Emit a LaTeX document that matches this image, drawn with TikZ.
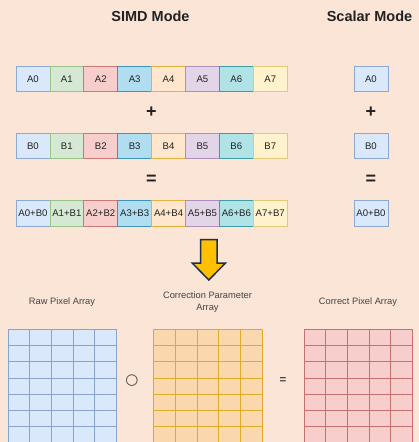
\documentclass[tikz,border=0pt]{standalone}
\usepackage{fontspec}
\setmainfont{Liberation Sans}
\newfontfamily\symfont{DejaVu Sans}
\definecolor{bgc}{HTML}{FBE5D7}
\definecolor{fA}{HTML}{DAE8FC}\definecolor{sA}{HTML}{6C8EBF}
\definecolor{fB}{HTML}{D5E8D4}\definecolor{sB}{HTML}{82B366}
\definecolor{fC}{HTML}{F8CECC}\definecolor{sC}{HTML}{B85450}
\definecolor{fD}{HTML}{B1DDF0}\definecolor{sD}{HTML}{10739E}
\definecolor{fE}{HTML}{FFE6CC}\definecolor{sE}{HTML}{D79B00}
\definecolor{fF}{HTML}{E1D5E7}\definecolor{sF}{HTML}{9673A6}
\definecolor{fG}{HTML}{B0E3E6}\definecolor{sG}{HTML}{0E8088}
\definecolor{fH}{HTML}{FFF2CC}\definecolor{sH}{HTML}{D6B656}
\definecolor{fO}{HTML}{FAD7AC}\definecolor{sO}{HTML}{D79B00}
\definecolor{txt}{HTML}{222222}
\definecolor{arrowfill}{HTML}{FFC000}
\definecolor{arrowline}{HTML}{1F2D4F}
\tikzset{
  cell/.style={minimum width=33.9pt, minimum height=25.5pt, inner sep=0pt, outer sep=0pt,
    font=\fontsize{9.6}{10}\selectfont, text=txt, line width=0.8pt, anchor=north west},
  title/.style={font=\bfseries\fontsize{14.5}{16}\selectfont, text=txt},
  op/.style={font=\bfseries\fontsize{18}{18}\selectfont, text=txt},
  lbl/.style={font=\fontsize{9.3}{12}\selectfont, text=txt!85!white, align=center},
  gridline/.style={line width=0.7pt}
}
\begin{document}
\begin{tikzpicture}[x=1pt,y=-1pt]
\useasboundingbox (0,0) rectangle (419,442);
\clip (0,0) rectangle (419,442);
\fill[bgc] (0,0) rectangle (419,442);
% titles
\node[title] (t1) at (150.5,16) {SIMD Mode};
\node[title] (t2) at (369.5,16) {Scalar Mode};
% rows
\foreach \i/\c in {0/A,1/B,2/C,3/D,4/E,5/F,6/G,7/H}{
  \node[cell, fill=f\c, draw=s\c!70!f\c] (a\i) at ({16+33.9*\i},66) {A\i};
  \node[cell, fill=f\c, draw=s\c!70!f\c] (b\i) at ({16+33.9*\i},133.3) {B\i};
  \node[cell, fill=f\c, draw=s\c!70!f\c] (c\i) at ({16+33.9*\i},200.7) {A\i+B\i};
}
\node[cell, fill=fA, draw=sA!70!fA] (sa) at (354,66) {A0};
\node[cell, fill=fA, draw=sA!70!fA] (sb) at (354,133.3) {B0};
\node[cell, fill=fA, draw=sA!70!fA] (sc) at (354,200.7) {A0+B0};
% operators
\node[op] (p1) at (151.5,112) {+};
\node[op] (p2) at (371,112) {+};
\node[op] (e1) at (151.5,180) {=};
\node[op] (e2) at (371,180) {=};
% arrow
\draw[fill=arrowfill, draw=arrowline, line width=1.5pt, line join=miter]
  (200.5,239.5) -- (217,239.5) -- (217,263) -- (225.5,263) -- (208.8,280) -- (192.2,263) -- (200.5,263) -- cycle;
% labels
\node[lbl] (l1) at (62,302) {Raw Pixel Array};
\node[lbl] (l2) at (207.5,302.5) {Correction Parameter\\Array};
\node[lbl] (l3) at (358,302) {Correct Pixel Array};
% grids
\foreach \x/\f/\s/\n in {8/fA/sA/g1, 153.7/fO/sO/g2, 304/fC/sC/g3}{
  \fill[\f] (\x,329) rectangle ++(108.5,140);
  \foreach \k in {0,...,5}
    \draw[gridline, draw=\s!75!\f] ({\x+21.7*\k},329) -- ++(0,140);
  \foreach \k in {0,...,8}
    \draw[gridline, draw=\s!75!\f] (\x,{329+16.3*\k}) -- ++(108.5,0);
  \coordinate (\n) at ({\x+54.25},381);
}
\node[font=\symfont\bfseries\fontsize{15}{16}\selectfont, text=txt!85!white] (ho) at (132,381) {○};
\node[font=\bfseries\fontsize{11.5}{12}\selectfont, text=txt!85!white] (eq) at (283,381) {=};
\end{tikzpicture}
\end{document}
